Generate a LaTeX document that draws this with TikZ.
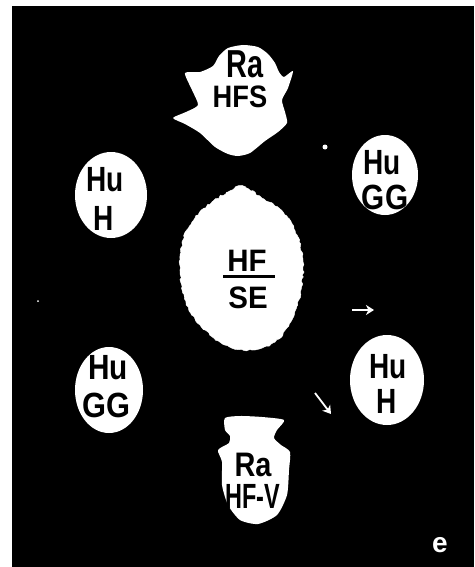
\documentclass[tikz,border=0pt]{standalone}
\usepackage{fontspec}
\usepackage{graphicx}
\newfontfamily\hand{Liberation Sans}
\newcommand\sx[2]{\scalebox{#1}[1]{#2}}
\usetikzlibrary{arrows.meta,decorations.pathmorphing}
\begin{document}
\begin{tikzpicture}[x=1pt,y=-1pt,
  blob/.style={fill=white,draw=white},
  rough/.style={blob,decorate,decoration={random steps,segment length=2.5pt,amplitude=0.9pt}},
  lbl/.style={text=black,inner sep=0pt,font=\hand\bfseries\fontsize{35}{37}\selectfont},
  wline/.style={white,line width=1.8pt,-{Stealth[length=8pt,width=10pt,inset=2.5pt]}}]
\pgfmathsetseed{7}
\useasboundingbox (0,0) rectangle (474,567);
\fill[white] (0,0) rectangle (474,567);
\fill[black] (12,6.5) rectangle (474,567);
% top blob
\fill[white] plot[smooth cycle,tension=0.4] coordinates {(243,45) (258,47) (268,54) (275,63) (279,72) (284,77) (293,71) (288,88) (282,100) (285,112) (287,123) (278,132) (265,141) (250,153) (238,156) (228,154) (215,147) (200,133) (185,124) (173,118) (186,112) (198,105) (192,90) (185,73) (200,72) (213,66) (219,56) (228,48)};
% centre blob
\draw[rough] plot[smooth cycle,tension=0.6] coordinates {(242,186) (262,198) (283,212) (297,235) (303,262) (301,290) (292,320) (275,342) (252,350) (225,345) (200,325) (185,300) (180,270) (183,240) (195,218) (212,202) (228,192)};
% bottom blob
\fill[white] plot[smooth cycle,tension=0.4] coordinates {(225,418) (240,416) (262,417) (284,420) (277,430) (274,438) (281,445) (290,452) (289,470) (287,495) (277,515) (258,524) (240,520) (228,505) (222,485) (222,462) (218,450) (229,443) (230,436) (225,430)};
% ellipses
\fill[white] (111,195) ellipse [x radius=36,y radius=43];
\fill[white] (385,175) ellipse [x radius=33,y radius=40];
\fill[white] (387,380) ellipse [x radius=37,y radius=45];
\fill[white] (109,390) ellipse [x radius=34,y radius=43];
% dots
\fill[white] (325,147) circle (2.5);
\fill[white] (38,301) circle (1);
% labels
\node[lbl,font=\hand\bfseries\fontsize{39}{41}\selectfont] (t1) at (245,64) {\sx{0.74}{Ra}};
\node[lbl,font=\hand\bfseries\fontsize{31}{33}\selectfont] (t2) at (240,97) {\sx{0.88}{HFS}};
\node[lbl] (l1) at (105,180) {\sx{0.8}{Hu}};
\node[lbl] (l2) at (104,218) {\sx{0.8}{H}};
\node[lbl] (r1) at (382,163) {\sx{0.8}{Hu}};
\node[lbl] (r2) at (385,197) {\sx{0.85}{GG}};
\node[lbl,font=\hand\bfseries\fontsize{31}{33}\selectfont] (c1) at (247,261) {\sx{0.95}{HF}};
\node[lbl,font=\hand\bfseries\fontsize{31}{33}\selectfont] (c2) at (248,298) {\sx{0.95}{SE}};
\coordinate (cl) at (223,276);
\coordinate (cr) at (275,276);
\draw[black,line width=3pt] (cl) -- (cr);
\node[lbl] (s1) at (388,367) {\sx{0.8}{Hu}};
\node[lbl] (s2) at (387,401) {\sx{0.8}{H}};
\node[lbl] (g1) at (108,368) {\sx{0.85}{Hu}};
\node[lbl] (g2) at (106,405) {\sx{0.88}{GG}};
\node[lbl,font=\hand\bfseries\fontsize{34}{36}\selectfont] (b1) at (253,465) {\sx{0.85}{Ra}};
\node[lbl] (b2) at (253,496) {\sx{0.67}{HF-V}};
\node[lbl,text=white,font=\hand\bfseries\fontsize{28}{30}\selectfont] (e) at (440,545) {e};
% small arrows
\coordinate (a1s) at (352,310);
\coordinate (a1e) at (374,310);
\coordinate (a2s) at (315,393);
\coordinate (a2e) at (331,414);
\draw[wline] (a1s) -- (a1e);
\draw[wline] (a2s) -- (a2e);
\end{tikzpicture}
\end{document}
